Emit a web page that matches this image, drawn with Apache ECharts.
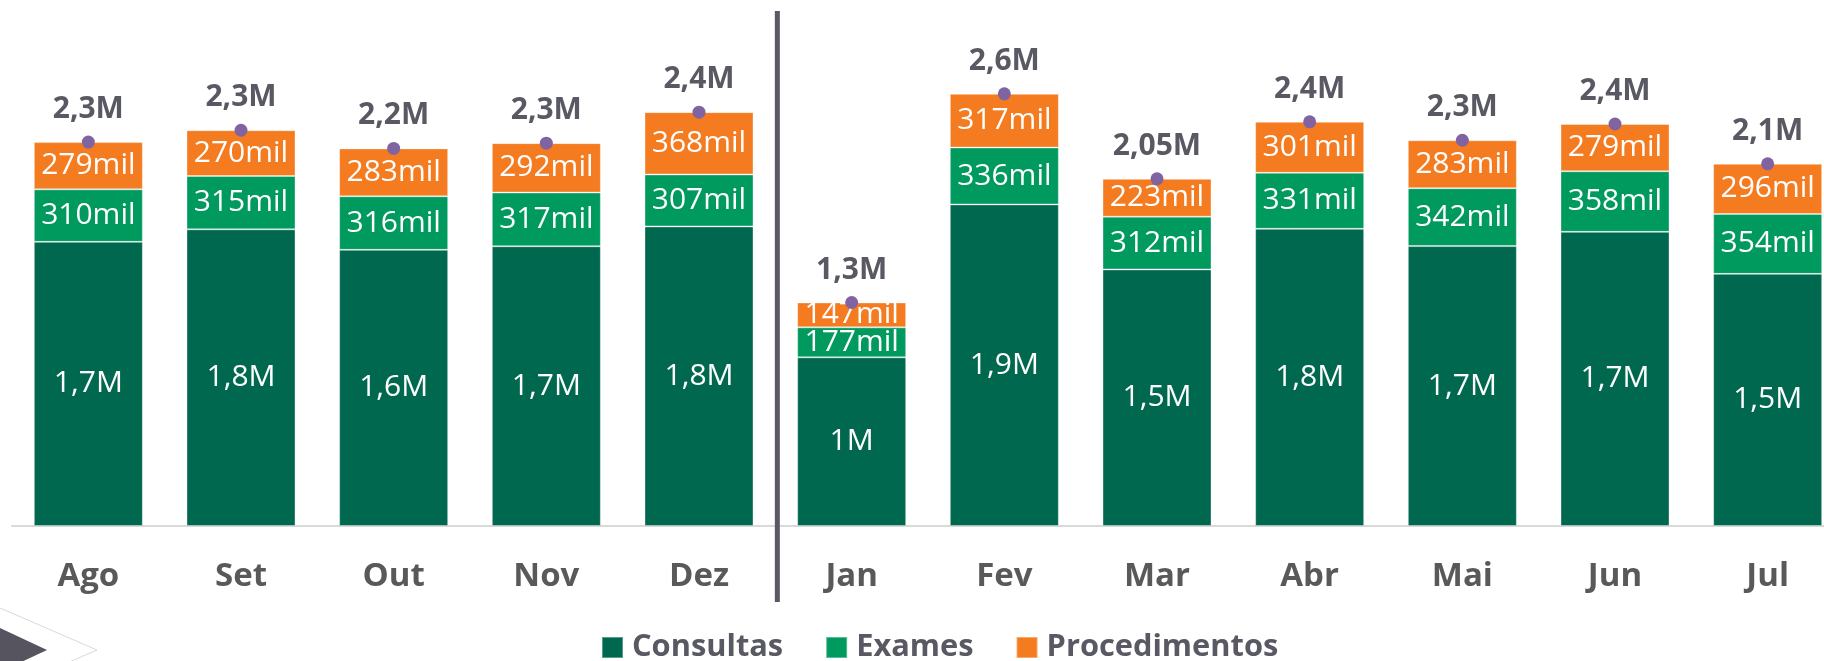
<!DOCTYPE html>
<html>
<head>
<meta charset="utf-8">
<script src="https://cdn.jsdelivr.net/npm/echarts@6/dist/echarts.min.js"></script>
<style>
html,body{margin:0;padding:0;background:#fff;}
#c{width:1824px;height:661px;}
</style>
</head>
<body>
<div id="c"></div>
<script>
// Values in thousands ("mil")
const categories = ['Ago','Set','Out','Nov','Dez','Jan','Fev','Mar','Abr','Mai','Jun','Jul'];
const consultas = [1678, 1752, 1631, 1652, 1769, 996, 1899, 1515, 1755, 1653, 1737, 1489];
const exames = [310, 315, 316, 317, 307, 177, 336, 312, 331, 342, 358, 354];
const procedimentos = [279, 270, 283, 292, 368, 147, 317, 223, 301, 283, 279, 296];
const totalLabels = ['2,3M','2,3M','2,2M','2,3M','2,4M','1,3M','2,6M','2,05M','2,4M','2,3M','2,4M','2,1M'];
const seriesNames = ['Consultas','Exames','Procedimentos'];

const totals = categories.map((c, i) => consultas[i] + exames[i] + procedimentos[i]);

const FONT = 'Open Sans';
const fmtMillion = v => {
  let s = (v / 1000).toFixed(1).replace('.', ',');
  if (s.endsWith(',0')) s = s.slice(0, -2);
  return s + 'M';
};
const fmtMil = v => v + 'mil';

const chart = echarts.init(document.getElementById('c'), null, {renderer: 'canvas'});

const barCommon = {
  type: 'bar',
  stack: 'total',
  barWidth: 109,
  itemStyle: {borderColor: 'rgba(255,255,255,0.35)', borderWidth: 1},
  label: {
    show: true,
    position: 'inside',
    color: '#ffffff',
    fontFamily: FONT,
    fontSize: 30,
    fontWeight: 'normal'
  },
  emphasis: {disabled: true}
};

chart.setOption({
  animation: false,
  backgroundColor: '#ffffff',
  grid: {left: 12, top: 18, width: 1832, height: 508, containLabel: false, outerBoundsMode: 'none'},
  legend: {
    data: seriesNames,
    left: 596,
    top: 627,
    itemWidth: 21,
    itemHeight: 21,
    itemGap: 42,
    icon: 'rect',
    textStyle: {fontFamily: FONT, fontSize: 30.8, fontWeight: 'bold', color: '#595963', padding: [0, 0, 0, 4]}
  },
  xAxis: {
    type: 'category',
    data: categories,
    axisTick: {show: false},
    axisLine: {lineStyle: {color: '#d9d9d9', width: 2}},
    axisLabel: {fontFamily: FONT, fontSize: 33, fontWeight: 'bold', color: '#595959', margin: 34}
  },
  yAxis: {
    type: 'value',
    min: 0,
    max: 3000,
    show: false,
    splitLine: {show: false}
  },
  series: [
    Object.assign({}, barCommon, {
      name: seriesNames[0],
      data: consultas,
      itemStyle: Object.assign({}, barCommon.itemStyle, {color: '#00684e'}),
      label: Object.assign({}, barCommon.label, {formatter: p => fmtMillion(p.value)})
    }),
    Object.assign({}, barCommon, {
      name: seriesNames[1],
      data: exames,
      itemStyle: Object.assign({}, barCommon.itemStyle, {color: '#00995e'}),
      label: Object.assign({}, barCommon.label, {formatter: p => fmtMil(p.value)})
    }),
    Object.assign({}, barCommon, {
      name: seriesNames[2],
      data: procedimentos,
      itemStyle: Object.assign({}, barCommon.itemStyle, {color: '#f47b20'}),
      label: Object.assign({}, barCommon.label, {formatter: p => fmtMil(p.value)})
    }),
    {
      name: 'Total',
      type: 'line',
      data: totals,
      symbol: 'circle',
      symbolSize: 13,
      z: 5,
      itemStyle: {color: '#8064a2'},
      lineStyle: {opacity: 0},
      label: {
        show: true,
        position: 'top',
        distance: 11,
        formatter: p => totalLabels[p.dataIndex],
        fontFamily: FONT,
        fontSize: 30,
        fontWeight: 'bold',
        color: '#595963'
      },
      emphasis: {disabled: true}
    }
  ]
});

// separator between Dez and Jan, and decorative corner shape
const xDez = chart.convertToPixel({xAxisIndex: 0}, 'Dez');
const xJan = chart.convertToPixel({xAxisIndex: 0}, 'Jan');
const sepX = (xDez + xJan) / 2 + 2;
chart.setOption({
  graphic: [
    {type: 'line', shape: {x1: sepX, y1: 11, x2: sepX, y2: 602}, style: {stroke: '#5a5a64', lineWidth: 5}, z: 10},
    {type: 'polyline', shape: {points: [[0, 608], [97, 650], [0, 692]]}, style: {stroke: '#d9d9d9', lineWidth: 1, fill: null}},
    {type: 'polygon', shape: {points: [[0, 628], [47, 650], [0, 672]]}, style: {fill: '#55545f'}}
  ]
});
</script>
</body>
</html>
